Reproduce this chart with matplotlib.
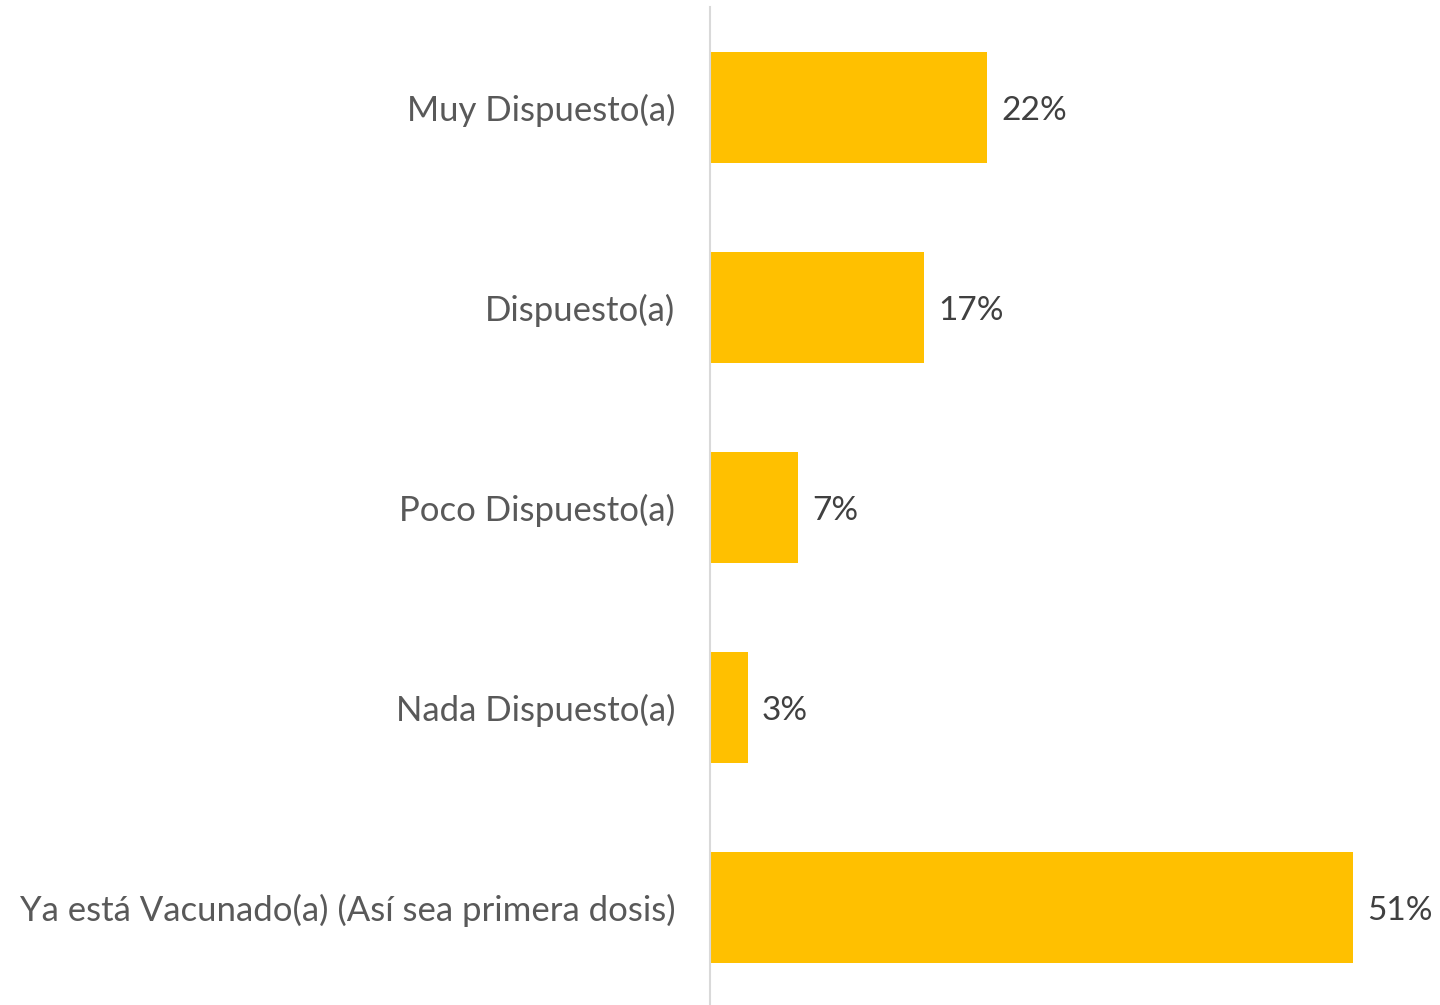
import matplotlib.pyplot as plt

categories = ["Muy Dispuesto(a)", "Dispuesto(a)", "Poco Dispuesto(a)",
              "Nada Dispuesto(a)", "Ya está Vacunado(a) (Así sea primera dosis)"]
values = [22, 17, 7, 3, 51]
value_labels = ["22%", "17%", "7%", "3%", "51%"]

plt.rcParams['font.family'] = ['Lato', 'DejaVu Sans']

fig = plt.figure(figsize=(14.4, 10.05), dpi=100)
# axes spans 7.5px .. 1007.5px from the top (slightly past the bottom edge)
ax = fig.add_axes([710 / 1440, -2.5 / 1005, 730 / 1440, 1000 / 1005])

pos = list(range(len(categories)))
ax.barh(pos, values, height=0.555, color="#FFC000")
for p, v, lab in zip(pos, values, value_labels):
    ax.text(v + 1.1, p, lab, va="center_baseline", ha="left", fontsize=24, color="#404040")

ax.set_ylim(len(categories) - 0.5, -0.5)
ax.set_xlim(0, 57.9)
ax.set_yticks(pos)
ax.set_yticklabels(categories, fontsize=25, color="#595959", va="center_baseline")
ax.tick_params(axis="y", length=0, pad=25)
ax.set_xticks([])
for s in ["top", "right", "bottom"]:
    ax.spines[s].set_visible(False)
ax.spines["left"].set_color("#D9D9D9")
ax.spines["left"].set_linewidth(1.5)

fig.savefig("out.png", dpi=100)
